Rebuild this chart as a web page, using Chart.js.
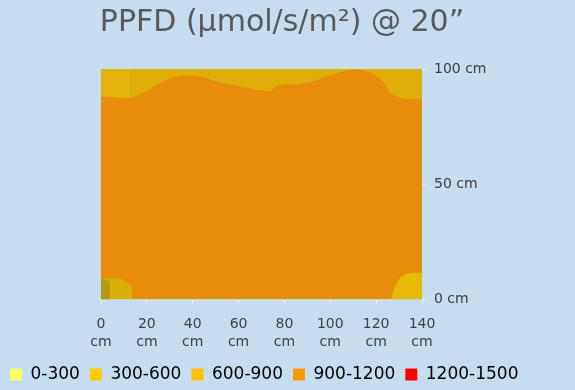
<!DOCTYPE html>
<html>
<head>
<meta charset="utf-8">
<script src="https://cdn.jsdelivr.net/npm/chart.js@4"></script>
<style>
  html, body { margin: 0; padding: 0; background: #c6ddf0; }
  #wrap { width: 575px; height: 390px; }
</style>
</head>
<body>
<div id="wrap"><canvas id="ppfd" width="575" height="390"></canvas></div>
<script>
// legend ranges (µmol/s/m2) and their colours
const rangeLabels = ["0-300", "300-600", "600-900", "900-1200", "1200-1500"];
const rangeColors = ["#ffff66", "#ffcc00", "#ffc000", "#ff9900", "#ff0000"];

// axis ticks, cm
const xTicks = [0, 20, 40, 60, 80, 100, 120, 140];
const yTicks = [0, 50, 100];

// top edge of the 900-1200 zone (above it is 600-900)
const edgeX = [0, 12.7, 18.5, 24.4, 33.1, 41.8, 50.5, 59.2, 67.9, 73.8, 76.7, 89.8, 97.1, 105.8, 113.2, 119.0, 123.4, 126.3, 130.7, 140];
const edgeY = [88.2, 87.5, 89.7, 93.3, 96.9, 96.9, 94.7, 92.6, 91.1, 90.4, 92.6, 94.0, 96.2, 99.0, 99.8, 97.6, 94.0, 89.7, 87.5, 86.8];

// lighter cell in the top left corner
const topLeftX = [0, 12.5];
const topLeftY = [88.2, 87.6];

// lower corners that drop to 600-900
const cornerLeftX = [0, 8, 12, 13.5, 13.5];
const cornerLeftY = [9, 9, 7, 5, 0];
const cornerLeftDarkX = [0, 4, 4];
const cornerLeftDarkY = [9, 8, 4];
const cornerRightX = [126.5, 128, 131, 135, 140];
const cornerRightY = [0, 5, 10, 11.5, 11.5];

const $canvas = document.querySelector("#ppfd");

function toPoints(xs, ys)
{
  return xs.map((x, i) => ({ x: x, y: ys[i] }));
}

let zoneFill = {
  pointRadius: 0,
  borderWidth: 0,
  showLine: true,
};

let config = {
  type: 'scatter',
  data: {
    datasets: [
      Object.assign({}, zoneFill, {
        label: 'corner left dark',
        data: toPoints(cornerLeftDarkX, cornerLeftDarkY),
        backgroundColor: '#b39a12',
        fill: 'origin',
        order: 0
      }),
      Object.assign({}, zoneFill, {
        label: 'corner left',
        data: toPoints(cornerLeftX, cornerLeftY),
        backgroundColor: '#d8b00a',
        fill: 'origin',
        tension: 0.2,
        order: 1
      }),
      Object.assign({}, zoneFill, {
        label: 'corner right',
        data: toPoints(cornerRightX, cornerRightY),
        backgroundColor: '#e9b90a',
        fill: 'origin',
        tension: 0.3,
        order: 1
      }),
      Object.assign({}, zoneFill, {
        label: 'top left cell',
        data: toPoints(topLeftX, topLeftY),
        backgroundColor: '#e5b40c',
        fill: 'end',
        order: 1
      }),
      Object.assign({}, zoneFill, {
        label: '600-900 top',
        data: toPoints(edgeX, edgeY),
        backgroundColor: '#dfae0a',
        fill: 'end',
        tension: 0.3,
        order: 2
      }),
      Object.assign({}, zoneFill, {
        label: '900-1200',
        data: toPoints([0, 140], [100, 100]),
        backgroundColor: '#e78d0a',
        fill: 'origin',
        order: 3
      })
    ]
  },
  options: {
    responsive: false,
    animation: false,
    layout: { padding: { left: 0, right: 11, top: 0, bottom: -3 } },
    plugins: {
      title: {
        display: true,
        text: 'PPFD (µmol/s/m²) @ 20”',
        color: '#595959',
        font: { family: 'DejaVu Sans', size: 30, weight: 'normal' },
        padding: { top: 5, bottom: 28 }
      },
      legend: {
        position: 'bottom',
        align: 'start',
        onClick: null,
        labels: {
          color: '#595959',
          font: { family: 'DejaVu Sans', size: 17 },
          boxWidth: 12,
          boxHeight: 12,
          padding: 10,
          generateLabels: function ()
          {
            return rangeLabels.map((t, i) => ({
              text: t,
              fillStyle: rangeColors[i],
              strokeStyle: rangeColors[i],
              lineWidth: 0,
              hidden: false,
              index: i
            }));
          }
        }
      },
      tooltip: { enabled: false }
    },
    scales: {
      x: {
        type: 'linear',
        min: 0,
        max: 140,
        border: { display: false },
        grid: { display: true, drawOnChartArea: false, tickLength: 4, color: 'rgba(255,255,255,0.6)' },
        afterBuildTicks: function (axis)
        {
          axis.ticks = xTicks.map(v => ({ value: v }));
        },
        afterFit: function (axis)
        {
          axis.height = axis.height - 7;
        },
        ticks: {
          color: '#404040',
          font: { family: 'DejaVu Sans', size: 14, lineHeight: 1.3 },
          maxRotation: 0,
          padding: 11.5,
          callback: function (v) { return [String(v), 'cm']; }
        }
      },
      yLeft: {
        type: 'linear',
        position: 'left',
        display: true,
        border: { display: false },
        grid: { display: false },
        ticks: { display: false },
        afterFit: function (axis)
        {
          axis.width = 101;
        }
      },
      y: {
        type: 'linear',
        position: 'right',
        min: 0,
        max: 100,
        border: { display: false },
        grid: { display: true, drawOnChartArea: false, tickLength: 4, color: 'rgba(255,255,255,0.6)' },
        afterBuildTicks: function (axis)
        {
          axis.ticks = yTicks.map(v => ({ value: v }));
        },
        afterFit: function (axis)
        {
          axis.width = 142;
        },
        ticks: {
          color: '#404040',
          font: { family: 'DejaVu Sans', size: 14 },
          padding: 8,
          callback: function (v) { return v + ' cm'; }
        }
      }
    }
  }
};

let PPFD = new Chart($canvas, config);
</script>
</body>
</html>
